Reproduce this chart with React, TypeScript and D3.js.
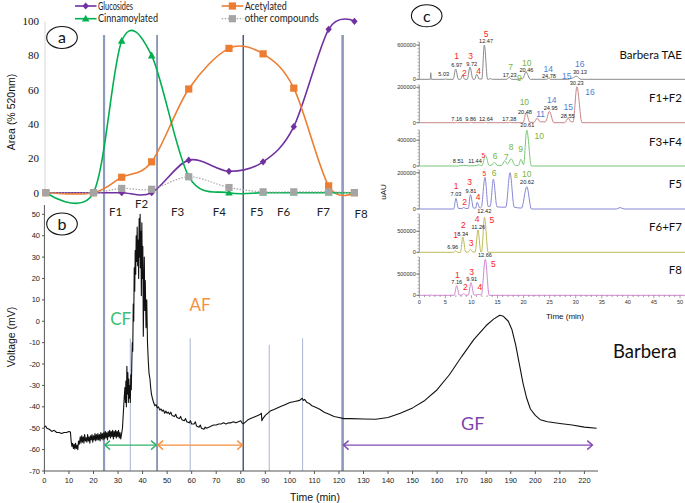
import React from 'react';
import * as d3 from 'd3';

const W = 685;
const H = 503;

// ---------- Panel a data ----------
const fractionTimes = [0.6, 20.0, 31.5, 43.7, 58.8, 75.2, 89.1, 101.6, 115.8, 126.3];
const glucosides = [0, 0, 0, 0, 19, 12.5, 18, 38.5, 95.3, 100];
const acetylated = [0, 0, 9, 18, 60.5, 84.2, 81, 61, 4, 0];
const cinnamoylated = [0, 0, 88.5, 80, 9.5, 0, 0, 0, 0, 0];
const otherCompounds = [0, 0, 2.5, 2, 9.3, 3, 0.5, 0.5, 0.5, 0];
const areaTicks = [0, 20, 40, 60, 80, 100];
const fractionNames = ['F1', 'F2', 'F3', 'F4', 'F5', 'F6', 'F7', 'F8'];
const fractionNameTimes = [29.0, 39.6, 54.3, 71.3, 86.6, 97.5, 113.6, 129.0];

// ---------- Panel b data ----------
const traceB: [number, number][] = [
  [0, -49.5], [0.5, -49], [1, -50], [2, -50.5], [3, -51.5], [4, -51], [5, -52], [6, -52], [7, -52.5], [8, -52], [9, -52], [10, -51.5], [10.6, -51.8],
  [10.9, -56], [11.2, -58.5], [11.5, -57], [11.8, -59.5], [12.1, -57.5], [12.4, -59.8], [12.7, -57], [13, -59.5], [13.3, -58], [13.6, -60], [13.9, -56], [14.2, -57.5],
  [14.6, -54], [14.9, -57], [15.2, -53.5], [15.5, -56.5], [15.8, -54], [16.1, -57], [16.4, -53], [16.7, -56], [17.0, -54.5], [17.3, -56.5], [17.6, -53], [17.9, -56],
  [18.2, -54], [18.5, -57], [18.8, -53.5], [19.1, -55.5], [19.4, -53], [19.7, -56.5], [20.0, -53.5], [20.3, -55.5], [20.6, -52.5], [20.9, -56], [21.2, -53], [21.5, -55.5],
  [21.8, -52.5], [22.1, -55.5], [22.4, -53], [22.7, -56], [23.0, -52], [23.3, -55], [23.6, -52.5], [23.9, -55.5], [24.2, -52], [24.5, -55], [24.8, -51.5], [25.1, -54.5],
  [25.4, -52], [25.7, -55.5], [26.0, -51.5], [26.3, -54], [26.6, -51], [26.9, -54.5], [27.2, -51.5], [27.5, -54], [27.8, -51], [28.1, -55], [28.4, -51.5], [28.7, -54],
  [29.0, -51], [29.3, -54.5], [29.6, -51.5], [29.9, -54], [30.2, -51], [30.5, -54.5], [30.8, -52], [31.1, -55], [31.4, -53],
  [31.8, -50], [32.2, -42], [32.5, -36], [32.8, -31], [33.0, -38], [33.2, -28], [33.4, -40], [33.6, -21], [33.8, -34], [34.0, -24], [34.2, -38], [34.4, -27], [34.6, -36],
  [34.8, -30], [35.0, -38], [35.2, -25], [35.4, -32], [35.6, -20], [35.8, -10], [36.0, -14], [36.2, 8], [36.4, 0], [36.6, 25], [36.8, 14], [37.0, 33], [37.2, 22],
  [37.4, 40], [37.6, 28], [37.8, 44], [38.0, 26], [38.2, 38], [38.4, 20], [38.6, 48], [38.8, 30], [39.0, 50], [39.1, 25], [39.3, 42], [39.5, 12], [39.7, 46], [39.9, 20],
  [40.1, 35], [40.3, -7], [40.5, 15], [40.7, 30], [40.9, 5], [41.1, 19], [41.4, -3], [41.7, 10], [42.0, -10], [42.3, -18], [42.6, -24], [43.0, -27], [43.3, -31],
  [43.6, -34], [44.0, -36], [44.5, -38], [45.0, -39.5], [45.5, -39], [46.0, -40.5], [46.5, -40], [47, -41.5], [47.5, -41], [48, -42], [48.5, -41.5], [49, -43],
  [49.5, -42], [50, -43], [50.5, -42.5], [51, -43.5], [51.5, -42.5], [52, -44], [53, -44.5], [53.5, -43.5], [54, -45], [55, -45.5], [55.5, -44.5], [56, -46],
  [57, -46.5], [57.5, -45.5], [58, -47], [59, -47.5], [59.5, -46.5], [60, -48], [61, -48], [61.5, -47], [62, -49], [63, -49.5], [63.5, -48.5], [64, -50],
  [65, -50.5], [65.5, -49.5], [66, -50], [67, -49.5], [68, -49], [69, -48.5], [70, -48.5], [71, -48], [72, -48], [73, -47.5], [74, -48], [75, -47.5], [76, -47.5],
  [77, -47], [78, -47.5], [79, -47], [80, -46.5], [80.5, -47.5], [81, -48], [82, -47], [83, -46], [84, -45.5], [85, -45], [86, -44.5], [87, -44], [88, -43.5],
  [88.4, -43], [88.6, -46.5], [89, -45.5], [90, -44], [92, -42], [94, -41], [96, -40], [98, -39], [100, -38], [102, -37.5], [104, -37], [105, -36], [105.5, -37],
  [106, -36.5], [107, -38], [108, -38.5], [109, -39.5], [110, -40], [112, -41], [114, -42.5], [116, -43.5], [118, -44.5], [120, -45], [122, -45.5], [125, -45.5],
  [130, -45.7], [135, -45.8], [140, -45], [145, -43], [150, -40.5], [155, -37], [160, -32], [165, -25], [170, -16.5], [175, -8.5], [180, -2], [183, 1],
  [185.5, 2.8], [187, 2.3], [189, 0], [190.5, -4], [192, -11], [193.5, -20], [195, -29], [196.5, -36], [198, -41], [200, -44], [202, -46], [205, -47],
  [210, -47.8], [215, -48.5], [220, -49.5], [225, -50],
];
const voltTicks = d3.range(-70, 51, 10);
const timeTicks = d3.range(0, 221, 10);
const boundaryTimes = [24.3, 45.9, 81.0, 121.5];
const sampleTimes = [35.0, 59.4, 91.6, 105.2];
const sampleTops = [-8, -8, -11, -8];
const arrowLevel = -57.9;
const cfRange = [24.3, 45.9];
const afRange = [45.9, 81.0];
const gfRange = [121.5, 223.6];

// ---------- Panel c data (uAU, thousands) ----------
const chromNames = ['Barbera TAE', 'F1+F2', 'F3+F4', 'F5', 'F6+F7', 'F8'];
const chromTickValues = [600, 200, 400, 200, 500, 500];
const chromTickLabels = ['600000', '200000', '400000', '200000', '500000', '500000'];
const chromTimeTicks = d3.range(0, 51, 5);

const chromBarbera: [number, number][] = [
  [0, 0], [2.1, 0], [2.2, 115], [2.3, 0], [4.8, 0], [5.03, 6], [5.3, 0], [6.5, 0], [6.97, 180], [7.5, 0], [7.9, 0], [8.3, 70], [8.7, 0], [9.2, 0],
  [9.72, 215], [10.3, 0], [10.6, 0], [11.0, 87], [11.5, 5], [12.0, 5], [12.47, 600], [13.1, 0], [13.3, 0], [13.6, 12], [14.0, 0], [16.8, 0],
  [17.23, 35], [17.7, 0], [19.2, 0], [19.5, 18], [19.8, 10], [20.46, 128], [21.3, 0], [24.4, 0], [24.78, 15], [25.2, 0], [28.5, 0], [29.0, 12],
  [29.4, 22], [30.1, 55], [31.0, 0], [51, 0],
];
const chromF12: [number, number][] = [
  [0, 0], [6.9, 0], [7.16, 3], [7.4, 0], [9.6, 0], [9.86, 3], [10.1, 0], [12.4, 0], [12.64, 3], [12.9, 0], [17.1, 0], [17.38, 3], [17.6, 0],
  [19.9, 0], [20.48, 56], [21.2, 2], [22.0, 2], [22.6, 25], [23.2, 5], [24.2, 5], [24.95, 64], [25.8, 0], [27.9, 0], [28.55, 25], [29.1, 5],
  [29.5, 5], [30.23, 203], [31.2, 0], [51, 0],
];
const chromF34: [number, number][] = [
  [0, 0], [7.5, 0], [8.51, 10], [9.5, 3], [10.5, 3], [11.44, 18], [12.0, 5], [12.7, 166], [13.4, 10], [13.8, 10], [14.4, 57], [15.0, 8],
  [15.8, 10], [16.4, 82], [16.9, 30], [17.6, 113], [18.4, 10], [19.0, 10], [19.5, 104], [20.0, 20], [20.61, 560], [21.5, 0], [51, 0],
];
const chromF5: [number, number][] = [
  [0, 0], [6.6, 0], [7.03, 59], [7.5, 3], [8.2, 3], [8.5, 8], [8.9, 3], [9.4, 3], [9.81, 79], [10.4, 5], [10.8, 5], [11.1, 37], [11.6, 5],
  [11.9, 10], [12.6, 175], [13.2, 15], [13.6, 15], [14.2, 164], [14.9, 12], [15.7, 10], [16.6, 10], [17.4, 200], [18.2, 10], [19.6, 5],
  [20.62, 123], [21.5, 0], [37.8, 0], [38.5, 8], [39.3, 0], [51, 0],
];
const chromF67: [number, number][] = [
  [0, 0], [6.6, 0], [6.96, 38], [7.3, 0], [7.9, 0], [8.34, 364], [8.9, 5], [9.4, 5], [9.8, 70], [10.3, 5], [10.7, 5], [11.26, 530], [11.8, 10],
  [11.95, 10], [12.5, 833], [13.2, 0], [51, 0],
];
const chromF8: [number, number][] = [
  [0, 0], [2.0, 0], [2.2, 8], [2.5, 0], [6.7, 0], [7.16, 225], [7.7, 5], [8.2, 5], [8.5, 40], [8.9, 5], [9.4, 5], [9.91, 296], [10.5, 5],
  [10.9, 10], [11.3, 20], [11.9, 10], [12.66, 845], [13.4, 0], [51, 0],
];
const chromSeries = [chromBarbera, chromF12, chromF34, chromF5, chromF67, chromF8];

// labels: [text, kind, time, value(k)]  kind: r=red, g=green, b=blue, t=retention time, rs/gs = small
type Lab = [string, string, number, number];
const labBarbera: Lab[] = [
  ['5', 'r', 12.8, 792], ['12.47', 't', 12.8, 665], ['1', 'r', 7.17, 408], ['6.97', 't', 7.17, 255], ['3', 'r', 9.86, 408], ['9.72', 't', 10.05, 273],
  ['2', 'r', 8.63, 115], ['4', 'r', 11.39, 140], ['5.03', 't', 4.68, 84], ['7', 'g', 17.53, 210], ['17.23', 't', 17.34, 80], ['10', 'g', 20.6, 285],
  ['20.46', 't', 20.55, 155], ['9', 'g', 19.2, 30], ['14', 'b', 24.74, 180], ['24.78', 't', 24.87, 52], ['15', 'b', 28.27, 52], ['16', 'b', 30.76, 270],
  ['30.13', 't', 30.82, 135],
];
const labF12: Lab[] = [
  ['30.23', 't', 30.19, 222], ['16', 'b', 32.74, 173], ['1', 'g', 19.7, 118], ['0', 'g', 20.6, 118], ['20.48', 't', 20.27, 62], ['11', 'b', 23.28, 47],
  ['14', 'b', 25.39, 130], ['24.95', 't', 25.2, 81], ['15', 'b', 28.58, 89], ['28.55', 't', 28.46, 38], ['7.16', 't', 7.17, 19], ['9.86', 't', 9.86, 19],
  ['12.64', 't', 12.79, 19], ['17.38', 't', 17.26, 19],
];
const labF34: Lab[] = [
  ['20.61', 't', 20.71, 638], ['10', 'g', 23.01, 467], ['8', 'g', 17.59, 291], ['9', 'g', 19.45, 265], ['7', 'g', 16.69, 135], ['6', 'g', 14.52, 160],
  ['5', 'rs', 12.27, 156], ['11.44', 't', 10.68, 82], ['8.51', 't', 7.48, 82],
];
const labF5: Lab[] = [
  ['5', 'rs', 12.47, 197], ['6', 'g', 14.33, 197], ['8', 'gs', 18.49, 182], ['10', 'g', 20.6, 193], ['20.62', 't', 20.66, 147], ['1', 'r', 7.04, 127],
  ['7.03', 't', 7.04, 83], ['3', 'r', 9.67, 150], ['9.81', 't', 9.92, 99], ['2', 'r', 8.71, 40], ['4', 'r', 11.26, 68],
];
const labF67: Lab[] = [
  ['12.42', 't', 12.47, 975], ['4', 'r', 11.1, 790], ['5', 'r', 13.94, 769], ['2', 'r', 8.44, 650], ['11.26', 't', 11.32, 610], ['1', 'r', 6.98, 412],
  ['8.34', 't', 8.32, 443], ['3', 'r', 9.92, 229], ['6.96', 't', 6.41, 126],
];
const labF8: Lab[] = [
  ['12.66', 't', 12.6, 946], ['5', 'r', 14.19, 728], ['1', 'r', 7.29, 469], ['7.16', 't', 7.17, 312], ['3', 'r', 10.05, 554], ['9.91', 't', 10.05, 390],
  ['2', 'r', 8.82, 202], ['4', 'r', 11.64, 202],
];
const chromLabels = [labBarbera, labF12, labF34, labF5, labF67, labF8];

// ---------- layout ----------
const chromColors = ['#8a8a8a', '#c98585', '#78c878', '#8787d6', '#bcbc58', '#d286d2'];
const chromLayout = [
  { base: 79.3, tickY: 45, top: 42 },
  { base: 122.7, tickY: 87.3, top: 85 },
  { base: 166, tickY: 140.3, top: 130 },
  { base: 209, tickY: 172.7, top: 170 },
  { base: 252.3, tickY: 231.3, top: 214 },
  { base: 295.3, tickY: 274, top: 257 },
];
const labColor: Record<string, string> = { r: '#ff1a1a', rs: '#ff1a1a', g: '#76b443', gs: '#76b443', b: '#4a7fd4', t: '#222' };
const labSize: Record<string, number> = { r: 8.5, rs: 6.5, g: 8.5, gs: 6.5, b: 8.5, t: 5.6 };

const SANS = '"Liberation Sans", Arial, sans-serif';
const CAL = 'Lato, "Open Sans", sans-serif';

function Arrow({ x1, x2, y, color }: { x1: number; x2: number; y: number; color: string }) {
  const a = 6, b = 4.5;
  return (
    <g stroke={color} strokeWidth={1.4} fill="none">
      <line x1={x1 + 1} x2={x2 - 1} y1={y} y2={y} />
      <polyline points={`${x1 + a},${y - b} ${x1 + 0.8},${y} ${x1 + a},${y + b}`} />
      <polyline points={`${x2 - a},${y - b} ${x2 - 0.8},${y} ${x2 - a},${y + b}`} />
    </g>
  );
}

function Marker({ kind, x, y, color }: { kind: string; x: number; y: number; color: string }) {
  if (kind === 'diamond') return <path d={`M${x},${y - 3.6}L${x + 3.2},${y}L${x},${y + 3.6}L${x - 3.2},${y}Z`} fill={color} />;
  if (kind === 'triangle') return <path d={`M${x},${y - 4}L${x + 3.8},${y + 2.8}L${x - 3.8},${y + 2.8}Z`} fill={color} />;
  return <rect x={x - 3.6} y={y - 3.6} width={7.2} height={7.2} fill={color} />;
}

export default function App() {
  const xT = d3.scaleLinear().domain([0, 220]).range([44.4, 584.4]);
  const yA = d3.scaleLinear().domain([0, 100]).range([192.7, 21.3]);
  const yV = d3.scaleLinear().domain([-70, 50]).range([471, 214.3]);
  const xC = d3.scaleLinear().domain([0, 50]).range([419.3, 680]);

  const lineA = d3
    .line<number>()
    .x((_, i) => xT(fractionTimes[i]))
    .y((d) => yA(d))
    .curve(d3.curveCardinal.tension(0.05));

  const seriesA = [
    { name: 'Glucosides', data: glucosides, color: '#7030a0', marker: 'diamond', dash: undefined as string | undefined, w: 1.6 },
    { name: 'Acetylated', data: acetylated, color: '#ed7d31', marker: 'square', dash: undefined, w: 1.6 },
    { name: 'Cinnamoylated', data: cinnamoylated, color: '#00b050', marker: 'triangle', dash: undefined, w: 1.6 },
    { name: 'other compounds', data: otherCompounds, color: '#a5a5a5', marker: 'square', dash: '1.5,1.5', w: 1.2 },
  ];

  const lineB = d3
    .line<[number, number]>()
    .x((d) => xT(d[0]))
    .y((d) => yV(d[1]));

  const boundaryStyles = [
    { c: '#8e9bbf', w: 2.2 },
    { c: '#6c7ca6', w: 1.5 },
    { c: '#33426c', w: 1.3 },
    { c: '#8e9bbf', w: 2.6 },
  ];

  const legendPos = [
    { x: 75, y: 6 },
    { x: 221.7, y: 6 },
    { x: 75, y: 18.7 },
    { x: 221.7, y: 18.7 },
  ];
  const legendLens = [35, 42, 60, 74];

  return (
    <svg width={W} height={H} style={{ position: 'absolute', left: 0, top: 0, background: '#fff' }} xmlns="http://www.w3.org/2000/svg">
      <rect width={W} height={H} fill="#fff" />

      {/* ---------------- Panel b background lines ---------------- */}
      {sampleTimes.map((t, i) => (
        <line key={'s' + i} x1={xT(t)} x2={xT(t)} y1={yV(sampleTops[i])} y2={yV(-70)} stroke="#aab5d2" strokeWidth={1} />
      ))}
      {boundaryTimes.map((t, i) => (
        <line key={'bd' + i} x1={xT(t)} x2={xT(t)} y1={35} y2={yV(-70)} stroke={boundaryStyles[i].c} strokeWidth={boundaryStyles[i].w} />
      ))}

      {/* ---------------- Panel a ---------------- */}
      <line x1={45} x2={45} y1={yA(100)} y2={yA(0)} stroke="#d6d6d6" strokeWidth={1} />
      {areaTicks.map((v) => (
        <text key={'at' + v} x={39} y={yA(v)} dy="0.35em" textAnchor="end" fontFamily='"Liberation Serif", serif' fontSize={11} fill="#111">
          {v}
        </text>
      ))}
      <text transform={`translate(11,${112}) rotate(-90)`} textAnchor="middle" dy="0.35em" fontFamily={SANS} fontSize={10.5} fill="#111">
        Area (% 520nm)
      </text>
      {seriesA.map((s) => (
        <path key={s.name} d={lineA(s.data) || ''} fill="none" stroke={s.color} strokeWidth={s.w} strokeDasharray={s.dash} />
      ))}
      {seriesA.map((s) =>
        s.data.map((v, i) => <Marker key={s.name + i} kind={s.marker} x={xT(fractionTimes[i])} y={yA(v)} color={s.color} />)
      )}
      {/* legend */}
      {seriesA.map((s, i) => (
        <g key={'lg' + i}>
          <line x1={legendPos[i].x} x2={legendPos[i].x + 21.5} y1={legendPos[i].y} y2={legendPos[i].y} stroke={s.color} strokeWidth={s.w} strokeDasharray={s.dash} />
          <Marker kind={s.marker} x={legendPos[i].x + 10.7} y={legendPos[i].y} color={s.color} />
          <text x={legendPos[i].x + 23} y={legendPos[i].y} dy="0.35em" fontFamily={CAL} fontSize={10.5} fill="#222" textLength={legendLens[i]} lengthAdjust="spacingAndGlyphs">
            {s.name}
          </text>
        </g>
      ))}
      {fractionNames.map((f, i) => (
        <text key={f} x={xT(fractionNameTimes[i])} y={f === 'F2' ? 204 : f === 'F8' ? 214 : 212} dy="0.35em" textAnchor="middle" fontFamily={CAL} fontSize={11.5} fill="#222">
          {f}
        </text>
      ))}

      {/* circle labels */}
      {[
        { l: 'a', cx: 62, cy: 37.5 },
        { l: 'b', cx: 62, cy: 224 },
        { l: 'c', cx: 426.7, cy: 15.8 },
      ].map((c) => (
        <g key={c.l}>
          <ellipse cx={c.cx} cy={c.cy} rx={15.3} ry={11} fill="#fff" stroke="#111" strokeWidth={1.1} />
          <text x={c.cx} y={c.cy} dy="0.36em" textAnchor="middle" fontFamily={CAL} fontSize={16} fill="#111">
            {c.l}
          </text>
        </g>
      ))}

      {/* ---------------- Panel b ---------------- */}
      <line x1={44.4} x2={44.4} y1={205} y2={471} stroke="#555" strokeWidth={1} />
      <line x1={44.4} x2={598} y1={471} y2={471} stroke="#555" strokeWidth={1} />
      {voltTicks.map((v) => (
        <g key={'vt' + v}>
          <line x1={42} x2={44.4} y1={yV(v)} y2={yV(v)} stroke="#555" />
          <text x={40} y={yV(v)} dy="0.35em" textAnchor="end" fontFamily={SANS} fontSize={7.5} fill="#222">
            {v}
          </text>
        </g>
      ))}
      {timeTicks.map((t) => (
        <g key={'tt' + t}>
          <line x1={xT(t)} x2={xT(t)} y1={471} y2={474} stroke="#555" />
          <text x={xT(t)} y={480} dy="0.35em" textAnchor="middle" fontFamily={SANS} fontSize={7.5} fill="#222">
            {t}
          </text>
        </g>
      ))}
      <text x={315} y={497.5} dy="0.35em" textAnchor="middle" fontFamily={SANS} fontSize={10.5} fill="#111">
        Time (min)
      </text>
      <text transform={`translate(11,${337}) rotate(-90)`} textAnchor="middle" dy="0.35em" fontFamily={SANS} fontSize={10.5} fill="#111">
        Voltage (mV)
      </text>
      <path d={lineB(traceB) || ''} fill="none" stroke="#111" strokeWidth={1.1} strokeLinejoin="round" />

      <Arrow x1={xT(cfRange[0])} x2={xT(cfRange[1])} y={yV(arrowLevel)} color="#2fb36a" />
      <Arrow x1={xT(afRange[0])} x2={xT(afRange[1])} y={yV(arrowLevel)} color="#f5903e" />
      <Arrow x1={xT(gfRange[0])} x2={xT(gfRange[1])} y={yV(arrowLevel)} color="#8448b4" />
      <text x={xT(31.1)} y={yV(0.9)} dy="0.35em" textAnchor="middle" fontFamily={CAL} fontSize={17} fill="#3cbf73">
        CF
      </text>
      <text x={xT(63.4)} y={yV(7.8)} dy="0.35em" textAnchor="middle" fontFamily={CAL} fontSize={17} fill="#f5903e">
        AF
      </text>
      <text x={xT(174.5)} y={yV(-47.7)} dy="0.35em" textAnchor="middle" fontFamily={CAL} fontSize={18} fill="#7e44ae">
        GF
      </text>
      <text x={xT(244.6)} y={yV(-14.3)} dy="0.35em" textAnchor="middle" fontFamily={CAL} fontSize={18.5} fill="#111">
        Barbera
      </text>

      {/* ---------------- Panel c ---------------- */}
      <text transform={`translate(383,${192}) rotate(-90)`} textAnchor="middle" dy="0.35em" fontFamily={SANS} fontSize={8} fill="#111">
        uAU
      </text>
      {chromSeries.map((series, i) => {
        const L = chromLayout[i];
        const yC = d3.scaleLinear().domain([0, chromTickValues[i]]).range([L.base, L.tickY]);
        const ln = d3
          .line<[number, number]>()
          .x((d) => xC(d[0]))
          .y((d) => yC(d[1]))
          .curve(d3.curveMonotoneX);
        const span = L.base - L.top;
        const nMinor = Math.round(span / 3.4);
        const minor = d3.range(0, nMinor + 1).map((k) => L.base - (k * span) / nMinor);
        return (
          <g key={'c' + i}>
            <line x1={xC(0)} x2={xC(0)} y1={L.top} y2={L.base} stroke="#777" strokeWidth={0.8} />
            {minor.map((y, k) => (
              <line key={k} x1={xC(0) - 1.8} x2={xC(0)} y1={y} y2={y} stroke="#888" strokeWidth={0.6} />
            ))}
            <line x1={xC(0) - 3} x2={xC(0)} y1={yC(0)} y2={yC(0)} stroke="#555" strokeWidth={0.8} />
            <line x1={xC(0) - 3} x2={xC(0)} y1={yC(chromTickValues[i])} y2={yC(chromTickValues[i])} stroke="#555" strokeWidth={0.8} />
            <text x={xC(0) - 3.5} y={yC(0)} dy="0.35em" textAnchor="end" fontFamily={SANS} fontSize={5.6} fill="#333">
              0
            </text>
            <text x={xC(0) - 3.5} y={yC(chromTickValues[i])} dy="0.35em" textAnchor="end" fontFamily={SANS} fontSize={5.6} fill="#333">
              {chromTickLabels[i]}
            </text>
            <path d={ln(series) || ''} fill="none" stroke={chromColors[i]} strokeWidth={1} />
            {chromLabels[i].map((lb, k) => (
              <text
                key={'l' + k}
                x={xC(lb[2])}
                y={yC(lb[3])}
                dy="0.35em"
                textAnchor="middle"
                fontFamily={SANS}
                fontSize={labSize[lb[1]]}
                fill={labColor[lb[1]]}
              >
                {lb[0]}
              </text>
            ))}
            <text x={682} y={(L.top + L.base) / 2 - 6} dy="0.35em" textAnchor="end" fontFamily={CAL} fontSize={11.5} fill="#111">
              {chromNames[i]}
            </text>
          </g>
        );
      })}
      {/* panel c x axis */}
      {d3.range(0, 51, 1).map((t) => (
        <line key={'cm' + t} x1={xC(t)} x2={xC(t)} y1={295.3} y2={t % 5 === 0 ? 298.3 : 297} stroke="#666" strokeWidth={0.6} />
      ))}
      {chromTimeTicks.map((t) => (
        <text key={'ct' + t} x={xC(t)} y={302} dy="0.35em" textAnchor="middle" fontFamily={SANS} fontSize={5.6} fill="#333">
          {t}
        </text>
      ))}
      <text x={565} y={316} dy="0.35em" textAnchor="middle" fontFamily={SANS} fontSize={8} fill="#111">
        Time (min)
      </text>
    </svg>
  );
}
